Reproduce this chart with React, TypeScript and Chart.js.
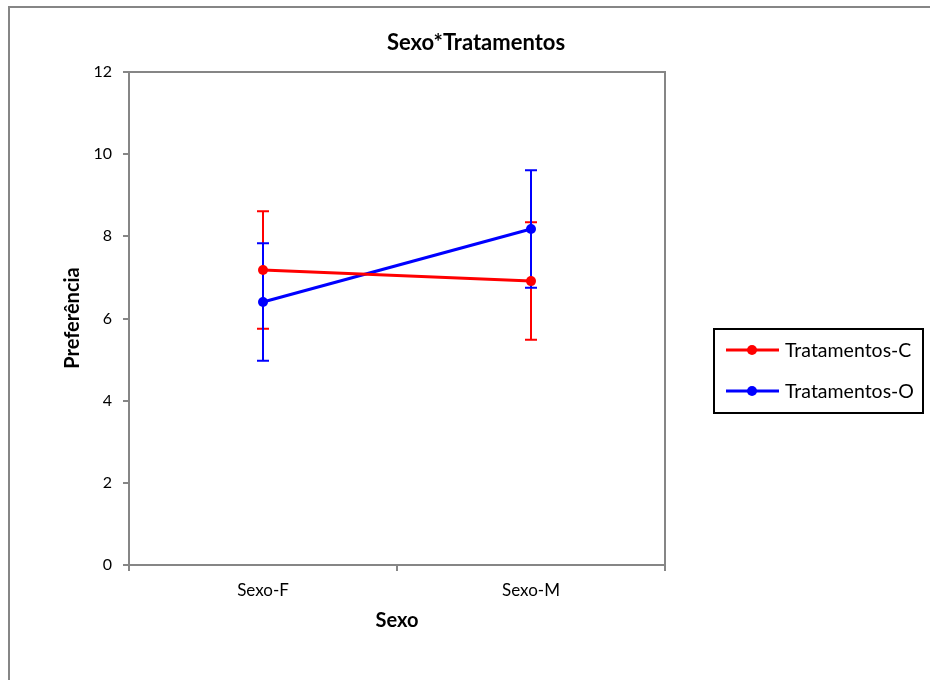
import React, { useEffect, useRef } from "react";
import { Chart, registerables } from "chart.js";

Chart.register(...registerables);

const categories = ["Sexo-F", "Sexo-M"];
const seriesNames = ["Tratamentos-C", "Tratamentos-O"];
const seriesColors = ["#FF0000", "#0000FF"];
const meansC = [7.18, 6.91];
const meansO = [6.4, 8.18];
const errC = [1.43, 1.43];
const errO = [1.43, 1.43];
const yTicks = [0, 2, 4, 6, 8, 10, 12];

const FONT = "Lato, 'Open Sans', sans-serif";
const AXIS_GRAY = "#868686";

export default function App() {
  const ref = useRef<HTMLCanvasElement | null>(null);

  useEffect(() => {
    const canvas = ref.current;
    if (!canvas) return;
    const errs = [errC, errO];

    const framePlugin = {
      id: "frame",
      beforeDraw(chart: any) {
        const ctx = chart.ctx;
        ctx.save();
        ctx.fillStyle = "#ffffff";
        ctx.fillRect(0, 0, chart.width, chart.height);
        ctx.strokeStyle = AXIS_GRAY;
        ctx.lineWidth = 2;
        ctx.beginPath();
        ctx.moveTo(9, chart.height + 5);
        ctx.lineTo(9, 7);
        ctx.lineTo(chart.width + 5, 7);
        ctx.stroke();
        ctx.restore();
      },
      beforeDatasetsDraw(chart: any) {
        const ctx = chart.ctx;
        const a = chart.chartArea;
        ctx.save();
        ctx.strokeStyle = AXIS_GRAY;
        ctx.lineWidth = 2;
        ctx.beginPath();
        ctx.moveTo(a.left, a.top);
        ctx.lineTo(a.right, a.top);
        ctx.lineTo(a.right, a.bottom);
        ctx.stroke();
        // error bars
        const xs = chart.scales.x;
        const ys = chart.scales.y;
        chart.data.datasets.forEach((ds: any, i: number) => {
          ctx.strokeStyle = seriesColors[i];
          ctx.lineWidth = 2;
          ds.data.forEach((v: number, j: number) => {
            const x = xs.getPixelForValue(j);
            const yt = ys.getPixelForValue(v + errs[i][j]);
            const yb = ys.getPixelForValue(v - errs[i][j]);
            ctx.beginPath();
            ctx.moveTo(x, yt);
            ctx.lineTo(x, yb);
            ctx.moveTo(x - 6, yt);
            ctx.lineTo(x + 6, yt);
            ctx.moveTo(x - 6, yb);
            ctx.lineTo(x + 6, yb);
            ctx.stroke();
          });
        });
        ctx.restore();
      },
      afterDraw(chart: any) {
        const ctx = chart.ctx;
        const a = chart.chartArea;
        ctx.save();
        // title
        ctx.fillStyle = "#000";
        ctx.textAlign = "center";
        ctx.textBaseline = "middle";
        ctx.font = `bold 22px ${FONT}`;
        ctx.fillText("Sexo*Tratamentos", 476, 43);
        // axis titles
        ctx.font = `bold 20px ${FONT}`;
        ctx.fillText("Sexo", (a.left + a.right) / 2, 621);
        ctx.save();
        ctx.translate(73, 318);
        ctx.rotate(-Math.PI / 2);
        ctx.fillText("Preferência", 0, 0);
        ctx.restore();
        // legend
        ctx.strokeStyle = "#000";
        ctx.lineWidth = 2;
        ctx.strokeRect(714, 329, 209, 84);
        const rows = [350, 391];
        seriesNames.forEach((name, i) => {
          const y = rows[i];
          ctx.strokeStyle = seriesColors[i];
          ctx.lineWidth = 3;
          ctx.beginPath();
          ctx.moveTo(726, y);
          ctx.lineTo(779, y);
          ctx.stroke();
          ctx.fillStyle = seriesColors[i];
          ctx.beginPath();
          ctx.arc(752, y, 5, 0, Math.PI * 2);
          ctx.fill();
          ctx.fillStyle = "#000";
          ctx.textAlign = "left";
          ctx.font = `19.5px ${FONT}`;
          ctx.fillText(name, 785, y + 1);
        });
        ctx.restore();
      },
    };

    const chart = new Chart(canvas, {
      type: "line",
      data: {
        labels: categories,
        datasets: [meansC, meansO].map((d, i) => ({
          label: seriesNames[i],
          data: d,
          borderColor: seriesColors[i],
          backgroundColor: seriesColors[i],
          borderWidth: 3,
          pointRadius: 5,
          pointHoverRadius: 5,
          pointBackgroundColor: seriesColors[i],
          pointBorderWidth: 0,
          tension: 0,
          fill: false,
        })),
      },
      options: {
        animation: false,
        responsive: false,
        events: [],
        layout: { padding: { left: 0, top: 72, right: 265, bottom: 75 } },
        plugins: {
          legend: { display: false },
          title: { display: false },
          tooltip: { enabled: false },
        },
        scales: {
          x: {
            type: "category",
            offset: true,
            grid: {
              display: true,
              offset: true,
              drawOnChartArea: false,
              drawTicks: true,
              tickLength: 6,
              color: AXIS_GRAY,
              lineWidth: 2,
            },
            border: { display: true, color: AXIS_GRAY, width: 2 },
            ticks: { color: "#000", font: { family: FONT, size: 17 }, padding: 9 },
            afterFit: (s: any) => {
              s.height = 40;
            },
          },
          y: {
            min: 0,
            max: 12,
            afterBuildTicks: (s: any) => {
              s.ticks = yTicks.map((v) => ({ value: v }));
            },
            grid: {
              display: true,
              drawOnChartArea: false,
              drawTicks: true,
              tickLength: 6,
              color: AXIS_GRAY,
              lineWidth: 2,
            },
            border: { display: true, color: AXIS_GRAY, width: 2 },
            ticks: { color: "#000", font: { family: FONT, size: 16 }, padding: 11 },
            afterFit: (s: any) => {
              s.width = 129;
            },
          },
        },
      },
      plugins: [framePlugin],
    });

    return () => chart.destroy();
  }, []);

  return (
    <div style={{ position: "fixed", left: 0, top: 0, width: 930, height: 680 }}>
      <canvas ref={ref} width={930} height={680} style={{ display: "block", width: 930, height: 680 }} />
    </div>
  );
}
